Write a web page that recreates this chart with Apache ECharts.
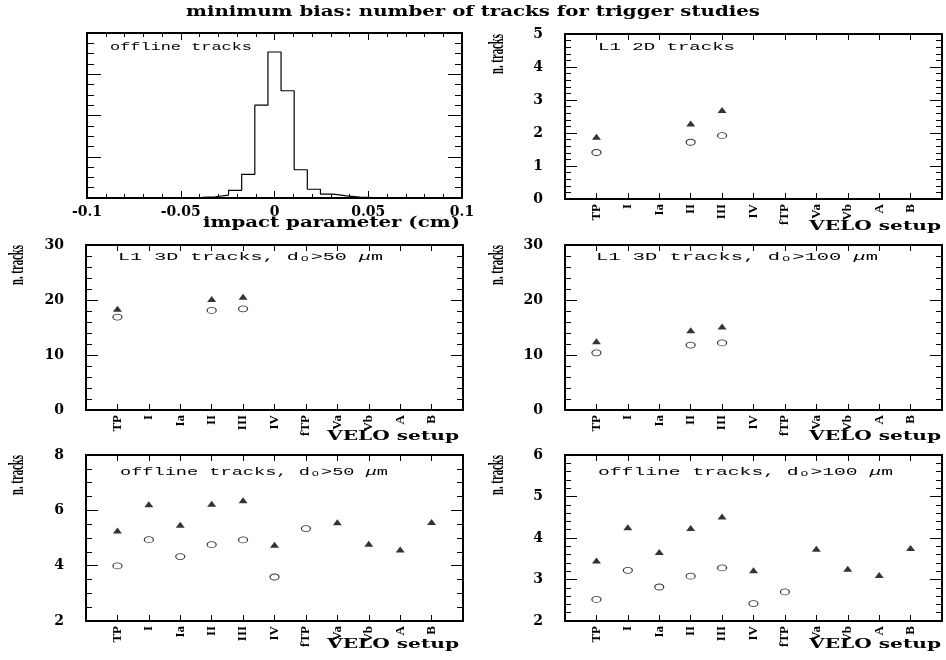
<!DOCTYPE html>
<html>
<head>
<meta charset="utf-8">
<script src="https://cdn.jsdelivr.net/npm/echarts@6/dist/echarts.min.js"></script>
<style>
  html, body { margin: 0; padding: 0; background: #fff; }
  #chart { width: 946px; height: 660px; }
</style>
</head>
<body>
<div id="chart"></div>
<script>
// VELO setups (x categories of the five track-count panels)
const setups = ['TP', 'I', 'Ia', 'II', 'III', 'IV', 'fTP', 'Va', 'Vb', 'A', 'B'];

// Impact parameter histogram: bins centred on 0, width 0.007 cm
const ipBinWidth = 0.007;
const ipBinCentreIndex = [-8, -7, -6, -5, -4, -3, -2, -1, 0, 1, 2, 3, 4, 5, 6, 7, 8];
const ipCounts = [4, 8, 16, 30, 70, 185, 575, 2250, 3540, 2600, 685, 212, 94, 50, 22, 10, 5];

// L1 2D tracks
const l12dTri  = [1.89, null, null, 2.29, 2.70, null, null, null, null, null, null];
const l12dCirc = [1.41, null, null, 1.72, 1.92, null, null, null, null, null, null];
// L1 3D tracks, d0 > 50 um
const l13d50Tri  = [18.4, null, null, 20.2, 20.6, null, null, null, null, null, null];
const l13d50Circ = [16.9, null, null, 18.1, 18.4, null, null, null, null, null, null];
// L1 3D tracks, d0 > 100 um
const l13d100Tri  = [12.5, null, null, 14.5, 15.2, null, null, null, null, null, null];
const l13d100Circ = [10.4, null, null, 11.8, 12.2, null, null, null, null, null, null];
// offline tracks, d0 > 50 um
const off50Tri  = [5.27, 6.22, 5.48, 6.24, 6.36, 4.76, null, 5.57, 4.79, 4.58, 5.58];
const off50Circ = [3.99, 4.94, 4.33, 4.76, 4.93, 3.59, 5.34, null, null, null, null];
// offline tracks, d0 > 100 um
const off100Tri  = [3.46, 4.26, 3.66, 4.24, 4.52, 3.22, null, 3.74, 3.26, 3.11, 3.76];
const off100Circ = [2.52, 3.22, 2.82, 3.08, 3.28, 2.42, 2.70, null, null, null, null];

// y ranges of the track-count panels
const yRanges = [
  { min: 0, max: 5,  interval: 1,  minor: 5 },
  { min: 0, max: 30, interval: 10, minor: 5 },
  { min: 0, max: 30, interval: 10, minor: 5 },
  { min: 2, max: 8,  interval: 2,  minor: 4 },
  { min: 2, max: 6,  interval: 1,  minor: 5 }
];

const panelData = [
  [l12dTri, l12dCirc],
  [l13d50Tri, l13d50Circ],
  [l13d100Tri, l13d100Circ],
  [off50Tri, off50Circ],
  [off100Tri, off100Circ]
];

// ---------------------------------------------------------------- layout
const frames = [
  { left: 87,  top: 33,  width: 375, height: 165 },
  { left: 565, top: 34,  width: 377, height: 165 },
  { left: 86,  top: 245, width: 377, height: 165 },
  { left: 565, top: 245, width: 377, height: 165 },
  { left: 86,  top: 455, width: 377, height: 166 },
  { left: 565, top: 455, width: 377, height: 166 }
];

const BLACK = '#000';
const SERIF = 'DejaVu Serif';
const TIMES = 'Liberation Serif';
const frameLine = { show: true, onZero: false, lineStyle: { color: BLACK, width: 2 } };

const grid = frames.map(f => ({ left: f.left, top: f.top, width: f.width, height: f.height, containLabel: false }));
const xAxis = [];
const yAxis = [];
const series = [];

// histogram panel (grid 0)
xAxis.push({
  gridIndex: 0, type: 'value', position: 'bottom', min: -0.1, max: 0.1, interval: 0.05,
  axisLine: frameLine, splitLine: { show: false },
  axisTick: { show: true, inside: true, length: 7, lineStyle: { color: BLACK, width: 1 } },
  minorTick: { show: true, splitNumber: 5, length: 4, lineStyle: { color: BLACK, width: 1 } },
  axisLabel: { show: true, margin: 7, color: BLACK, fontFamily: SERIF, fontWeight: 'bold', fontSize: 14 }
});
xAxis.push({
  gridIndex: 0, type: 'value', position: 'top', min: -0.1, max: 0.1, interval: 0.05,
  axisLine: frameLine, splitLine: { show: false },
  axisTick: { show: true, inside: true, length: 7, lineStyle: { color: BLACK, width: 1 } },
  minorTick: { show: true, splitNumber: 5, length: 4, lineStyle: { color: BLACK, width: 1 } },
  axisLabel: { show: false }
});
['left', 'right'].forEach(pos => yAxis.push({
  gridIndex: 0, type: 'value', position: pos, min: 0, max: 4000, interval: 1000,
  axisLine: frameLine, splitLine: { show: false },
  axisTick: { show: true, inside: true, length: 14, lineStyle: { color: BLACK, width: 1 } },
  minorTick: { show: true, splitNumber: 4, length: 7, lineStyle: { color: BLACK, width: 1 } },
  axisLabel: { show: false }
}));

// histogram outline as a stepped line through the bin edges
const histPts = [];
ipBinCentreIndex.forEach((k, i) => {
  const lo = (k - 0.5) * ipBinWidth;
  if (i === 0) histPts.push([lo, 0]);
  histPts.push([lo, ipCounts[i]]);
});
const lastHi = (ipBinCentreIndex[ipBinCentreIndex.length - 1] + 0.5) * ipBinWidth;
histPts.push([lastHi, ipCounts[ipCounts.length - 1]]);
histPts.push([lastHi, 0]);
series.push({
  type: 'line', xAxisIndex: 0, yAxisIndex: 0, step: 'end', data: histPts,
  symbol: 'none', silent: true, animation: false,
  lineStyle: { color: BLACK, width: 1.2 }
});

// track-count panels (grids 1..5)
const axisCats = [''].concat(setups, ['']);
const ellipse = 'path://M-1,0A1,1 0 1,0 1,0A1,1 0 1,0 -1,0Z';

panelData.forEach((pair, p) => {
  const g = p + 1;
  const r = yRanges[p];
  ['bottom', 'top'].forEach(pos => xAxis.push({
    gridIndex: g, type: 'category', position: pos, data: axisCats, boundaryGap: false,
    axisLine: frameLine, splitLine: { show: false },
    axisTick: { show: true, inside: true, length: 6, interval: 0, lineStyle: { color: BLACK, width: 1 } },
    axisLabel: pos === 'bottom'
      ? { show: true, interval: 0, rotate: 90, margin: 5, color: BLACK, fontFamily: TIMES, fontWeight: 'bold', fontSize: 13 }
      : { show: false }
  }));
  ['left', 'right'].forEach(pos => yAxis.push({
    gridIndex: g, type: 'value', position: pos, min: r.min, max: r.max, interval: r.interval,
    axisLine: frameLine, splitLine: { show: false },
    axisTick: { show: true, inside: true, length: 12, lineStyle: { color: BLACK, width: 1 } },
    minorTick: { show: true, splitNumber: r.minor, length: 6, lineStyle: { color: BLACK, width: 1 } },
    axisLabel: pos === 'left'
      ? { show: true, margin: 22, color: BLACK, fontFamily: SERIF, fontWeight: 'bold', fontSize: 14 }
      : { show: false }
  }));
  const toPts = arr => setups.map((s, i) => [s, arr[i]]).filter(d => d[1] != null);
  series.push({
    type: 'scatter', xAxisIndex: 2 * g, yAxisIndex: 2 * g, data: toPts(pair[0]),
    symbol: 'triangle', symbolSize: [9, 6], silent: true, animation: false,
    itemStyle: { color: BLACK }
  });
  series.push({
    type: 'scatter', xAxisIndex: 2 * g, yAxisIndex: 2 * g, data: toPts(pair[1]),
    symbol: ellipse, symbolSize: [9, 6], silent: true, animation: false,
    itemStyle: { color: '#fff', borderColor: BLACK, borderWidth: 1 }
  });
});

// ---------------------------------------------------------------- texts
const measureCtx = document.createElement('canvas').getContext('2d');
function textWidth(str, weight, size, family, style) {
  measureCtx.font = (style || 'normal') + ' ' + weight + ' ' + size + 'px "' + family + '"';
  return measureCtx.measureText(str).width;
}

// text stretched to a given width
function fitText(opt) {
  const weight = opt.weight || 'normal';
  const w = textWidth(opt.plain || opt.text, weight, opt.size, opt.family);
  const el = {
    type: 'text', x: opt.x, y: opt.y, rotation: opt.rotation || 0, z: -1,
    scaleX: opt.width / w, scaleY: opt.scaleY || 1, silent: true,
    style: {
      text: opt.text, fill: BLACK,
      fontFamily: opt.family, fontSize: opt.size, fontWeight: weight,
      align: opt.align, textAlign: opt.align,
      verticalAlign: 'middle', textVerticalAlign: 'middle'
    }
  };
  if (opt.rich) el.style.rich = opt.rich;
  return el;
}

const MONO = 'Liberation Mono';
const richMono = {
  i: { fontFamily: MONO, fontSize: 13, fontStyle: 'italic', fill: BLACK }
};
function note(text, plain, x, y, width) {
  return fitText({ text, plain, x, y, width, size: 13, family: MONO, align: 'left', scaleY: 0.85, rich: richMono });
}

const graphics = [
  fitText({ text: 'minimum bias: number of tracks for trigger studies', x: 473, y: 12, width: 574,
            size: 14, family: SERIF, weight: 'bold', align: 'center' }),
  note('offline tracks', null, 110, 47, 142),
  note('L1 2D tracks', null, 598, 47, 137),
  note('L1 3D tracks, dₒ>50 {i|μ}m', 'L1 3D tracks, dₒ>50 μm', 118, 257, 265),
  note('L1 3D tracks, dₒ>100 {i|μ}m', 'L1 3D tracks, dₒ>100 μm', 596, 257, 282),
  note('offline tracks, dₒ>50 {i|μ}m', 'offline tracks, dₒ>50 μm', 120, 472, 268),
  note('offline tracks, dₒ>100 {i|μ}m', 'offline tracks, dₒ>100 μm', 598, 472, 295),
  fitText({ text: 'impact parameter (cm)', x: 460, y: 223, width: 257,
            size: 14, family: SERIF, weight: 'bold', align: 'right' })
];

// x titles of the track-count panels
[[941, 227], [459, 437], [941, 437], [459, 645], [941, 645]].forEach(([x, y]) => {
  graphics.push(fitText({ text: 'VELO setup', x, y, width: 132, size: 13, family: SERIF, weight: 'bold', align: 'right' }));
});
// y titles of the track-count panels
[[498, 34], [18, 245], [498, 245], [18, 455], [498, 455]].forEach(([x, y]) => {
  graphics.push(fitText({ text: 'n. tracks', x, y, width: 40, size: 20, family: TIMES, weight: 'bold',
                          align: 'right', rotation: Math.PI / 2 }));
});

const chart = echarts.init(document.getElementById('chart'), null, { renderer: 'canvas' });
chart.setOption({
  backgroundColor: '#fff',
  animation: false,
  grid, xAxis, yAxis, series,
  graphic: { elements: graphics }
});
</script>
</body>
</html>
